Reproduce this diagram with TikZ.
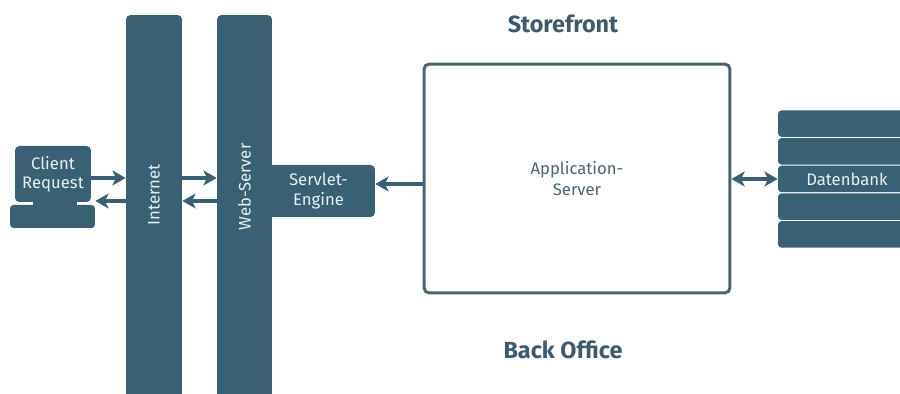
\documentclass[tikz,border=0pt]{standalone}
\usepackage{fontspec}
\setmainfont{Fira Sans}
\usetikzlibrary{arrows.meta}

\definecolor{boxblue}{HTML}{3A6073}
\definecolor{framegray}{HTML}{4A6470}
\definecolor{paletext}{HTML}{E6EEF2}
\definecolor{headblue}{HTML}{3D5B6C}

\tikzset{
  block/.style={fill=boxblue, rounded corners=2.5pt, inner sep=0pt, text=paletext,
    font=\fontsize{9.5}{11}\selectfont, align=center},
  dbrow/.style={block, rounded corners=2pt, minimum width=2.76cm, minimum height=0.53cm},
  tip/.tip={Stealth[length=7.5pt,width=8.5pt,inset=2pt]},
  link/.style={draw=boxblue, line width=1.9pt, -tip},
  heading/.style={text=headblue, font=\bfseries\fontsize{13.3}{15}\selectfont}
}

\begin{document}
\begin{tikzpicture}[x=0.02cm,y=-0.02cm]
\useasboundingbox (0,0) rectangle (900,394);

% client terminal
\node[block, minimum width=1.52cm, minimum height=1.12cm] (client) at (53,174) {Client\\Request};
\node[block, rounded corners=2pt, minimum width=1.70cm, minimum height=0.46cm] (keys) at (52.5,216.5) {};
\fill[boxblue] (33,200) rectangle (77,207);

% the two columns
\node[block, minimum width=1.12cm, minimum height=7.78cm] (internet) at (154,209.5) {};
\node[block, minimum width=1.10cm, minimum height=7.78cm] (web) at (244.5,209.5) {};
\node[block, rotate=90] at (internet.center |- 0,195) {Internet};
\node[block, rotate=90] at (web.center |- 0,187) {Web-Server};
\node[block, minimum width=2.26cm, minimum height=1.04cm] (servlet) at (318.5,191) {Servlet-\\Engine};

% application server
\node[draw=framegray, line width=1.7pt, rounded corners=3pt, minimum width=6.12cm,
  minimum height=4.58cm, text=framegray, font=\fontsize{9.5}{11.5}\selectfont,
  align=center] (app) at (577,178.5) {Application-\\Server};

\node[heading] (front) at (563,24) {Storefront};
\node[heading] (back) at (563,350) {Back Office};

% database stack
\node[dbrow] (db1) at (847,123.6) {};
\node[dbrow] (db2) at (847,151.3) {};
\node[dbrow] (db3) at (847,179) {Datenbank};
\node[dbrow] (db4) at (847,206.7) {};
\node[dbrow] (db5) at (847,234.4) {};

% requests and responses
\draw[link] (client.east |- 0,178) -- (internet.west |- 0,178);
\draw[link] (internet.west |- 0,201) -- (keys.east |- 0,201);
\draw[link] (internet.east |- 0,178) -- (web.west |- 0,178);
\draw[link] (web.west |- 0,201) -- (internet.east |- 0,201);
\draw[link] (app.west |- 0,184) -- (servlet.east |- 0,184);
\draw[link, tip-tip] (app.east |- db3.west) -- (db3.west);

\end{tikzpicture}
\end{document}
